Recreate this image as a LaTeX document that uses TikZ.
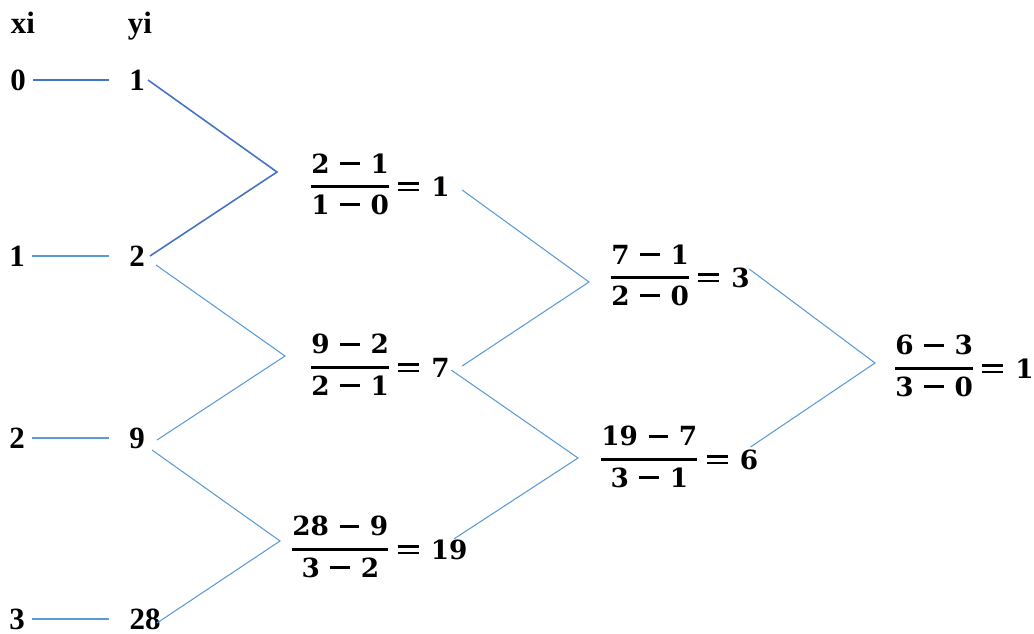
\documentclass[tikz,border=0pt]{standalone}
\usepackage{fontspec}
\setmainfont{Liberation Serif}
\newfontfamily\fracfont{DejaVu Serif}
\definecolor{darkblue}{RGB}{68,114,196}
\definecolor{lightblue}{RGB}{91,155,213}
\newcommand\mi{\hspace{6pt}\rule[4.5pt]{11.3pt}{1.8pt}\hspace{6pt}}
\newcommand\eqsign{\hspace{5.3pt}\rlap{\rule[2.85pt]{11.9pt}{1.7pt}}\rule[6.3pt]{11.9pt}{1.7pt}\hspace{7pt}}
\newcommand\fr[3]{%
  \setbox0\hbox{#1}\setbox2\hbox{#2}%
  \dimen0=\ifdim\wd0>\wd2 \wd0\else\wd2\fi
  \raisebox{-10.1pt}{\vbox{\hbox to\dimen0{\hfil\box0\hfil}\kern6.7pt\hrule height2pt\kern3.6pt\hbox to\dimen0{\hfil\box2\hfil}}}%
  \eqsign #3}
\begin{document}
\begin{tikzpicture}[x=0.02cm,y=-0.02cm,
  lab/.style={inner sep=0pt,font=\fontsize{17.6}{20}\selectfont\bfseries},
  frac/.style={inner sep=0pt,anchor=base west,font=\fontsize{15}{17}\selectfont\fracfont\bfseries},
  hline/.style={lightblue,line width=0.8pt,shorten <=7*0.02cm,shorten >=20*0.02cm},
  dline/.style={lightblue,line width=0.6pt},
  dkline/.style={darkblue,line width=0.9pt}]
\useasboundingbox (0,0) rectangle (1034,634);
% headers
\node[lab,anchor=base] (hx) at (23,34) {xi};
\node[lab,anchor=base] (hy) at (140,34) {yi};
% x values
\node[lab] (x0) at (18,80) {0};
\node[lab] (x1) at (17,256) {1};
\node[lab] (x2) at (17,438) {2};
\node[lab] (x3) at (17,619) {3};
% y values
\node[lab] (y0) at (137,80) {1};
\node[lab] (y1) at (137,256) {2};
\node[lab] (y2) at (137,438) {9};
\node[lab] (y3) at (145,619) {28};
% fractions (anchor: bar left, baseline)
\node[frac] (f1) at (311,196.5) {\fr{2\mi1}{1\mi0}{1}};
\node[frac] (f2) at (311,377.5) {\fr{9\mi2}{2\mi1}{7}};
\node[frac] (f3) at (292,559.5) {\fr{28\mi9}{3\mi2}{19}};
\node[frac] (f4) at (611,287.5) {\fr{7\mi1}{2\mi0}{3}};
\node[frac] (f5) at (601,469.5) {\fr{19\mi7}{3\mi1}{6}};
\node[frac] (f6) at (895,378.5) {\fr{6\mi3}{3\mi0}{1}};
% junctions
\coordinate (j1) at (277,172);
\coordinate (j2) at (285,356);
\coordinate (j3) at (280,541);
\coordinate (j4) at (589,282);
\coordinate (j5) at (578,458);
\coordinate (j6) at (875,363);
% horizontal connectors
\draw[hline,darkblue] (x0) -- (y0);
\draw[hline] (x1) -- (y1);
\draw[hline] (x2) -- (y2);
\draw[hline] (x3) -- (y3);
% first level
\draw[dkline] ([shift={(11,0)}]y0.center) -- (j1) -- ([shift={(13,0)}]y1.center);
\draw[dline] ([shift={(19,9)}]y1.center) -- (j2) -- ([shift={(20,2)}]y2.center);
\draw[dline] ([shift={(15,12)}]y2.center) -- (j3) -- ([shift={(12,4)}]y3.center);
% second level
\draw[dline] ([shift={(12,-6.5)}]f1.base east) -- (j4) -- ([shift={(12,-11.5)}]f2.base east);
\draw[dline] ([shift={(1,-7.5)}]f2.base east) -- (j5) -- ([shift={(-14,-20.5)}]f3.base east);
% third level
\draw[dline] ([shift={(-1,-18.5)}]f4.base east) -- (j6) -- ([shift={(-8,-22.5)}]f5.base east);
\end{tikzpicture}
\end{document}
